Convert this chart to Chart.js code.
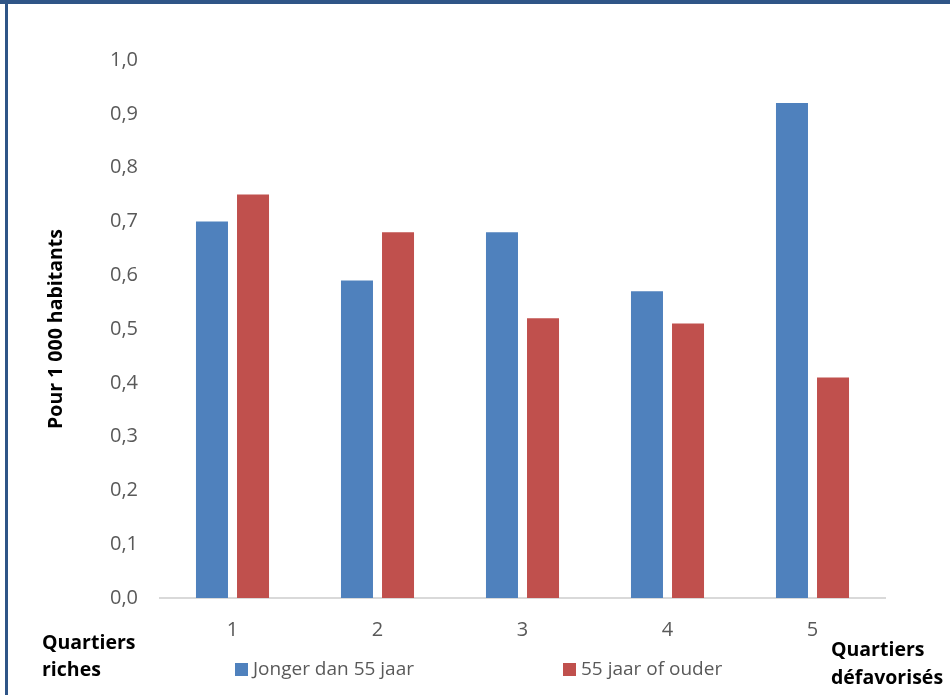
<!DOCTYPE html>
<html>
<head>
<meta charset="utf-8">
<script src="https://cdn.jsdelivr.net/npm/chart.js@4.4.1/dist/chart.umd.min.js"></script>
<style>
  html, body { margin: 0; padding: 0; background: #fff; }
  #wrap { position: relative; width: 950px; height: 695px; }
  #topline { position: absolute; left: 0; top: 0; width: 950px; height: 4px; background: #2f5587; }
  #leftline { position: absolute; left: 5px; top: 0; width: 3px; height: 695px; background: #2f5587; }
  canvas { position: absolute; left: 0; top: 0; }
</style>
</head>
<body>
<div id="wrap">
  <canvas id="barChart" width="950" height="695"></canvas>
  <div id="topline"></div>
  <div id="leftline"></div>
</div>
<script>
const categories = ['1', '2', '3', '4', '5']
const younger = [0.70, 0.59, 0.68, 0.57, 0.92]
const older = [0.75, 0.68, 0.52, 0.51, 0.41]
const seriesNames = ['Jonger dan 55 jaar', '55 jaar of ouder']
const seriesColors = ['#4f81bd', '#c0504d']
const yTitle = 'Pour 1 000 habitants'
const leftLabel = ['Quartiers', 'riches']
const rightLabel = ['Quartiers', 'défavorisés']

const fontFamily = '"Open Sans", Lato, sans-serif'

// legend + the two corner captions under the axis
const extras = {
  id: 'extras',
  afterDraw(chart) {
    const ctx = chart.ctx
    ctx.save()
    ctx.textBaseline = 'middle'
    ctx.font = '19px ' + fontFamily
    const legendX = [235, 563]
    chart.data.datasets.forEach((ds, i) => {
      ctx.fillStyle = ds.backgroundColor
      ctx.fillRect(legendX[i], 663, 13, 13)
      ctx.fillStyle = '#595959'
      ctx.fillText(ds.label, legendX[i] + 18, 670)
    })
    ctx.fillStyle = '#000'
    ctx.font = 'bold 19.5px ' + fontFamily
    ctx.fillText(leftLabel[0], 42, 643)
    ctx.fillText(leftLabel[1], 42, 670)
    ctx.fillText(rightLabel[0], 831, 650)
    ctx.fillText(rightLabel[1], 831, 678)
    ctx.restore()
  }
}

new Chart(document.getElementById('barChart'), {
  type: 'bar',
  data: {
    labels: categories,
    datasets: [
      { label: seriesNames[0], data: younger, backgroundColor: seriesColors[0] },
      { label: seriesNames[1], data: older, backgroundColor: seriesColors[1] }
    ]
  },
  options: {
    responsive: false,
    animation: false,
    categoryPercentage: 0.566,
    barPercentage: 0.78,
    layout: { padding: { left: 0, right: 65, top: 60, bottom: 52 } },
    plugins: {
      legend: { display: false },
      tooltip: { enabled: false }
    },
    scales: {
      x: {
        grid: { display: false, drawTicks: false },
        border: { display: true, color: '#d9d9d9', width: 2 },
        ticks: { color: '#595959', font: { family: fontFamily, size: 20 }, padding: 20 },
        afterFit: s => { s.height = 45 }
      },
      y: {
        min: 0,
        max: 1,
        grid: { display: false, drawTicks: false },
        border: { display: false },
        ticks: {
          stepSize: 0.1,
          color: '#595959',
          font: { family: fontFamily, size: 20 },
          padding: 22,
          callback: v => v.toFixed(1).replace('.', ',')
        },
        title: {
          display: true,
          text: yTitle,
          color: '#000',
          font: { family: fontFamily, size: 19.5, weight: 'bold' },
          padding: { top: 45 }
        },
        afterFit: s => { s.width = 160 }
      }
    }
  },
  plugins: [extras]
})
</script>
</body>
</html>
